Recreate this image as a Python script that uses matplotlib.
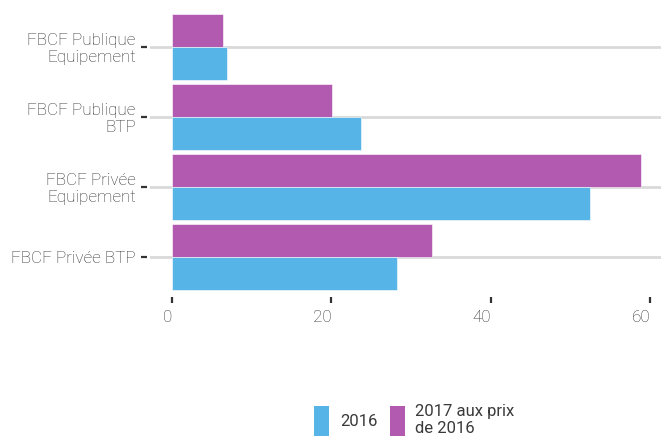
import matplotlib
matplotlib.use("Agg")
import matplotlib.pyplot as plt
from matplotlib.patches import Patch
import numpy as np

categories = ["FBCF Publique\nEquipement", "FBCF Publique\nBTP", "FBCF Privée\nEquipement", "FBCF Privée BTP"]
values_2016 = [6.9, 23.7, 52.5, 28.2]
values_2017 = [6.4, 20.1, 58.9, 32.6]
series_names = ["2016", "2017 aux prix\nde 2016"]
xticks = [0, 20, 40, 60]

col_2016 = "#56B4E6"
col_2017 = "#B25AB0"

plt.rcParams['font.family'] = ['Roboto', 'DejaVu Sans']

fig = plt.figure(figsize=(6.61, 4.41), dpi=100)
ax = fig.add_axes([0.227, 0.338, 0.773, 0.635])

for s in ax.spines.values():
    s.set_visible(False)
ax.spines['left'].set_position(('outward', 2.5))
ax.spines['bottom'].set_position(('outward', 3.6))

y = np.arange(len(categories))
h = 0.47
ax.barh(y - h/2, values_2017, height=h, color=col_2017, edgecolor="white", linewidth=0.4, zorder=3)
ax.barh(y + h/2, values_2016, height=h, color=col_2016, edgecolor="white", linewidth=0.4, zorder=3)

ax.set_ylim(len(categories) - 0.5, -0.5)
ax.set_xlim(-2.76, 61.35)
ax.tick_params(axis='y', length=4.3, width=1.6, color="#333333", pad=3.5)
ax.tick_params(axis='x', length=4.3, width=1.6, color="#333333", pad=5)
ax.set_yticks(y)
ax.set_yticklabels(categories, fontsize=12.3, color="#333333", fontweight="light", linespacing=1.15)
ax.set_xticks(xticks)
ax.set_xticklabels([str(t) for t in xticks], fontsize=12.3, color="#333333", fontweight="light")
for lab in ax.get_xticklabels():
    lab.set_ha("right")

ax.grid(axis='y', color="#d9d9d9", linewidth=2.0, zorder=0)
ax.grid(axis='x', visible=False)
ax.set_axisbelow(True)

handles = [Patch(facecolor=col_2016, edgecolor='none'), Patch(facecolor=col_2017, edgecolor='none')]
fig.legend(handles, series_names, loc="center", bbox_to_anchor=(0.627, 0.048), ncol=2,
           frameon=False, handlelength=0.88, handleheight=2.4, handletextpad=0.65,
           columnspacing=0.76, prop={'size': 12, 'weight': 'normal'}, labelcolor="#3a3a3a")

fig.savefig("out.png", dpi=100)
